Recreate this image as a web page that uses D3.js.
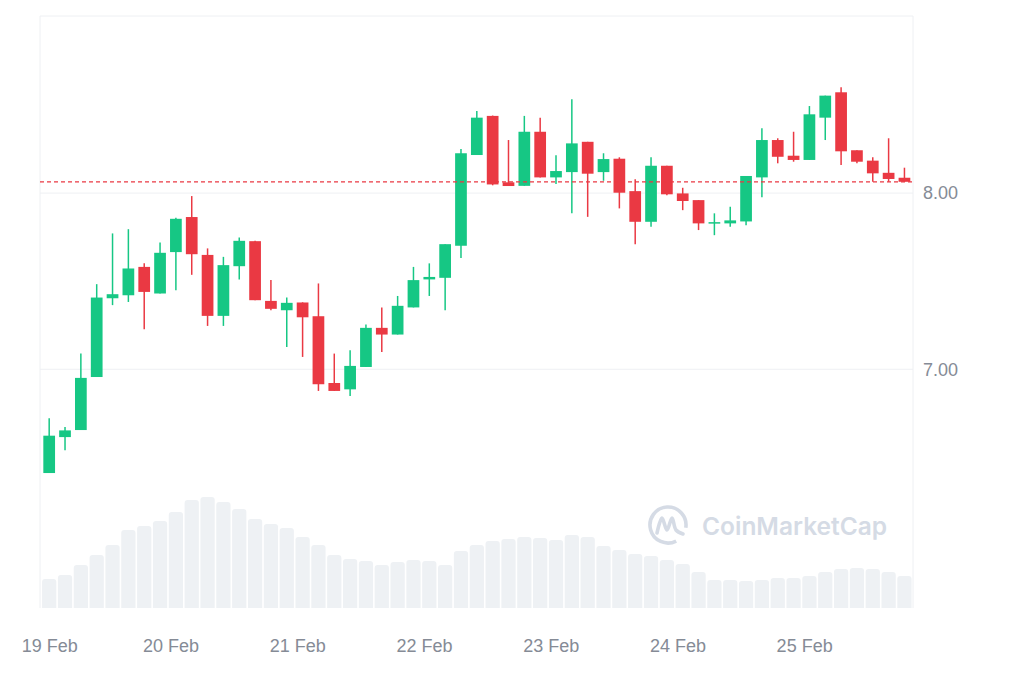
<!DOCTYPE html>
<html>
<head>
<meta charset="utf-8">
<script src="https://cdn.jsdelivr.net/npm/d3@7"></script>
<style>
  body { margin: 0; background: #fff; }
  text { font-family: "Liberation Sans", Arial, sans-serif; }
</style>
</head>
<body>
<div id="chart"></div>
<script>
// 3h candles, 19 Feb -> 25 Feb
const opens = [6.411, 6.615, 6.655, 6.956, 7.403, 7.420, 7.581, 7.430, 7.665, 7.864,
  7.649, 7.303, 7.585, 7.727, 7.388, 7.335, 7.379, 7.301, 6.922, 6.886,
  7.013, 7.235, 7.197, 7.351, 7.510, 7.519, 7.701, 8.216, 8.438, 8.061,
  8.041, 8.348, 8.089, 8.119, 8.291, 8.119, 8.195, 8.011, 7.837, 8.155,
  7.998, 7.960, 7.828, 7.828, 7.839, 8.089, 8.301, 8.212, 8.188, 8.428,
  8.572, 8.243, 8.184, 8.115, 8.087];
const highs = [6.722, 6.672, 7.089, 7.483, 7.771, 7.795, 7.601, 7.720, 7.860, 7.983,
  7.686, 7.638, 7.748, 7.730, 7.506, 7.407, 7.380, 7.487, 7.089, 7.108,
  7.254, 7.351, 7.416, 7.581, 7.601, 7.710, 8.250, 8.466, 8.440, 8.301,
  8.438, 8.428, 8.214, 8.532, 8.291, 8.226, 8.203, 8.078, 8.203, 8.155,
  8.030, 7.960, 7.885, 7.922, 8.097, 8.368, 8.311, 8.348, 8.494, 8.553,
  8.601, 8.243, 8.203, 8.311, 8.144];
const lows = [6.411, 6.540, 6.655, 6.956, 7.364, 7.382, 7.227, 7.430, 7.449, 7.536,
  7.246, 7.246, 7.510, 7.392, 7.335, 7.127, 7.070, 6.877, 6.877, 6.848,
  7.013, 7.098, 7.197, 7.351, 7.416, 7.335, 7.632, 8.216, 8.044, 8.040,
  8.041, 8.089, 8.051, 7.885, 7.865, 8.070, 7.913, 7.710, 7.809, 7.987,
  7.903, 7.790, 7.761, 7.809, 7.818, 7.976, 8.169, 8.178, 8.188, 8.301,
  8.159, 8.169, 8.064, 8.064, 8.064];
const closes = [6.623, 6.653, 6.951, 7.407, 7.426, 7.572, 7.439, 7.661, 7.854, 7.653,
  7.303, 7.591, 7.729, 7.392, 7.343, 7.377, 7.295, 6.915, 6.877, 7.019,
  7.235, 7.197, 7.360, 7.506, 7.524, 7.710, 8.226, 8.428, 8.049, 8.040,
  8.348, 8.089, 8.125, 8.282, 8.110, 8.193, 8.002, 7.837, 8.155, 7.993,
  7.955, 7.828, 7.835, 7.845, 8.097, 8.301, 8.206, 8.188, 8.447, 8.553,
  8.237, 8.178, 8.112, 8.080, 8.064];
// volume, millions
const volumes = [2.9, 3.3, 4.3, 5.3, 6.3, 7.8, 8.2, 8.7, 9.6, 10.8,
  11.1, 10.6, 9.9, 8.9, 8.4, 8.0, 7.1, 6.3, 5.3, 4.9,
  4.7, 4.3, 4.6, 4.8, 4.7, 4.3, 5.7, 6.3, 6.7, 6.9,
  7.1, 7.0, 6.8, 7.3, 7.1, 6.2, 5.8, 5.4, 5.2, 4.8,
  4.4, 3.6, 2.8, 2.8, 2.7, 2.8, 3.0, 3.0, 3.2, 3.6,
  3.9, 4.0, 3.9, 3.6, 3.2];
const priceTicks = [7, 8];
const startTime = Date.UTC(2024, 1, 19, 1);
const stepMs = 3 * 3600 * 1000;

const W = 1024, H = 683;
const plot = { left: 40, right: 913, top: 16, bottom: 608 };
const green = "#16c784", red = "#ea3943";

const candles = opens.map((o, i) => ({
  t: new Date(startTime + i * stepMs),
  o: o, h: highs[i], l: lows[i], c: closes[i], v: volumes[i]
}));
const lastTime = candles[candles.length - 1].t.getTime();

const svg = d3.select("#chart").append("svg")
    .attr("width", W)
    .attr("height", H)
    .style("background", "#fff");

const x = d3.scaleUtc()
    .domain([new Date(startTime - stepMs * 0.58), new Date(lastTime + stepMs * 0.54)])
    .range([plot.left, plot.right]);

const y = d3.scaleLinear()
    .domain([5.645, 9.005])
    .range([plot.bottom, plot.top]);

const yVol = d3.scaleLinear()
    .domain([0, 12])
    .range([plot.bottom, plot.bottom - 120]);

const step = x(new Date(startTime + stepMs)) - x(new Date(startTime));

svg.append("defs").append("clipPath")
    .attr("id", "plot-clip")
  .append("rect")
    .attr("x", plot.left)
    .attr("y", plot.top)
    .attr("width", plot.right - plot.left)
    .attr("height", plot.bottom - plot.top);

// frame
svg.append("path")
    .attr("d", `M${plot.left},${plot.bottom}V${plot.top}H${plot.right}V${plot.bottom}`)
    .attr("fill", "none")
    .attr("stroke", "#eef0f3")
    .attr("stroke-width", 1);

// grid
svg.selectAll(".grid")
    .data(priceTicks)
  .enter().append("line")
    .attr("class", "grid")
    .attr("x1", plot.left)
    .attr("x2", plot.right)
    .attr("y1", d => y(d))
    .attr("y2", d => y(d))
    .attr("stroke", "#eef0f3")
    .attr("stroke-width", 1);

// volume bars
const volW = step * 0.9;
svg.append("g")
    .attr("clip-path", "url(#plot-clip)")
  .selectAll("rect")
    .data(candles)
  .enter().append("rect")
    .attr("x", d => x(d.t) - volW / 2)
    .attr("y", d => yVol(d.v))
    .attr("width", volW)
    .attr("height", d => plot.bottom - yVol(d.v) + 4)
    .attr("rx", 3)
    .attr("fill", "#eef1f4");

// watermark
const wm = svg.append("g")
    .attr("transform", "translate(668,525)")
    .attr("fill", "none")
    .attr("stroke", "#d5dbe5")
    .attr("stroke-width", 3.6)
    .attr("stroke-linecap", "round");
wm.append("path")
    .attr("d", d3.arc().innerRadius(18).outerRadius(18)
        .startAngle(Math.PI * 0.85).endAngle(Math.PI * 2.55)());
wm.append("path")
    .attr("d", d3.line().curve(d3.curveCatmullRom.alpha(0.5))(
        [[-11, 8], [-6, -7], [-1, 5], [4, -7], [8, 5], [15, 9]]));
svg.append("text")
    .attr("x", 702)
    .attr("y", 535)
    .attr("fill", "#d5dbe5")
    .style("font-family", "Inter, 'Noto Sans', sans-serif")
    .style("font-size", "24.5px")
    .style("font-weight", 600)
    .text("CoinMarketCap");

// candles
const bodyW = step * 0.74;
const g = svg.append("g").attr("clip-path", "url(#plot-clip)");
const candle = g.selectAll(".candle")
    .data(candles)
  .enter().append("g")
    .attr("class", "candle");

candle.append("line")
    .attr("x1", d => x(d.t))
    .attr("x2", d => x(d.t))
    .attr("y1", d => y(d.h))
    .attr("y2", d => y(d.l))
    .attr("stroke", d => d.c >= d.o ? green : red)
    .attr("stroke-width", 1.5);

candle.append("rect")
    .attr("x", d => x(d.t) - bodyW / 2)
    .attr("y", d => y(Math.max(d.o, d.c)))
    .attr("width", bodyW)
    .attr("height", d => Math.max(1.5, Math.abs(y(d.o) - y(d.c))))
    .attr("fill", d => d.c >= d.o ? green : red);

// last price line
const lastClose = closes[closes.length - 1];
svg.append("line")
    .attr("x1", plot.left)
    .attr("x2", plot.right)
    .attr("y1", y(lastClose))
    .attr("y2", y(lastClose))
    .attr("stroke", red)
    .attr("stroke-width", 1.2)
    .attr("stroke-dasharray", "4,3");

// axes
const dayTicks = d3.utcDay.range(Date.UTC(2024, 1, 19), Date.UTC(2024, 1, 26))
    .map(d => new Date(Math.max(d.getTime(), startTime)));

const xAxis = svg.append("g")
    .attr("transform", "translate(0,639)")
    .call(d3.axisBottom(x).tickValues(dayTicks).tickFormat(d3.utcFormat("%-d %b")).tickSize(0));
xAxis.select(".domain").remove();
xAxis.selectAll("text")
    .attr("dy", "0.71em")
    .attr("y", 0)
    .style("font-family", "'Liberation Sans', Arial, sans-serif")
    .style("font-size", "18px")
    .attr("fill", "#858b96");

const yAxis = svg.append("g")
    .attr("transform", "translate(" + plot.right + ",0)")
    .call(d3.axisRight(y).tickValues(priceTicks).tickFormat(d3.format(".2f")).tickSize(0).tickPadding(10));
yAxis.select(".domain").remove();
yAxis.selectAll("text")
    .style("font-family", "'Liberation Sans', Arial, sans-serif")
    .style("font-size", "18px")
    .attr("fill", "#858b96");
</script>
</body>
</html>
